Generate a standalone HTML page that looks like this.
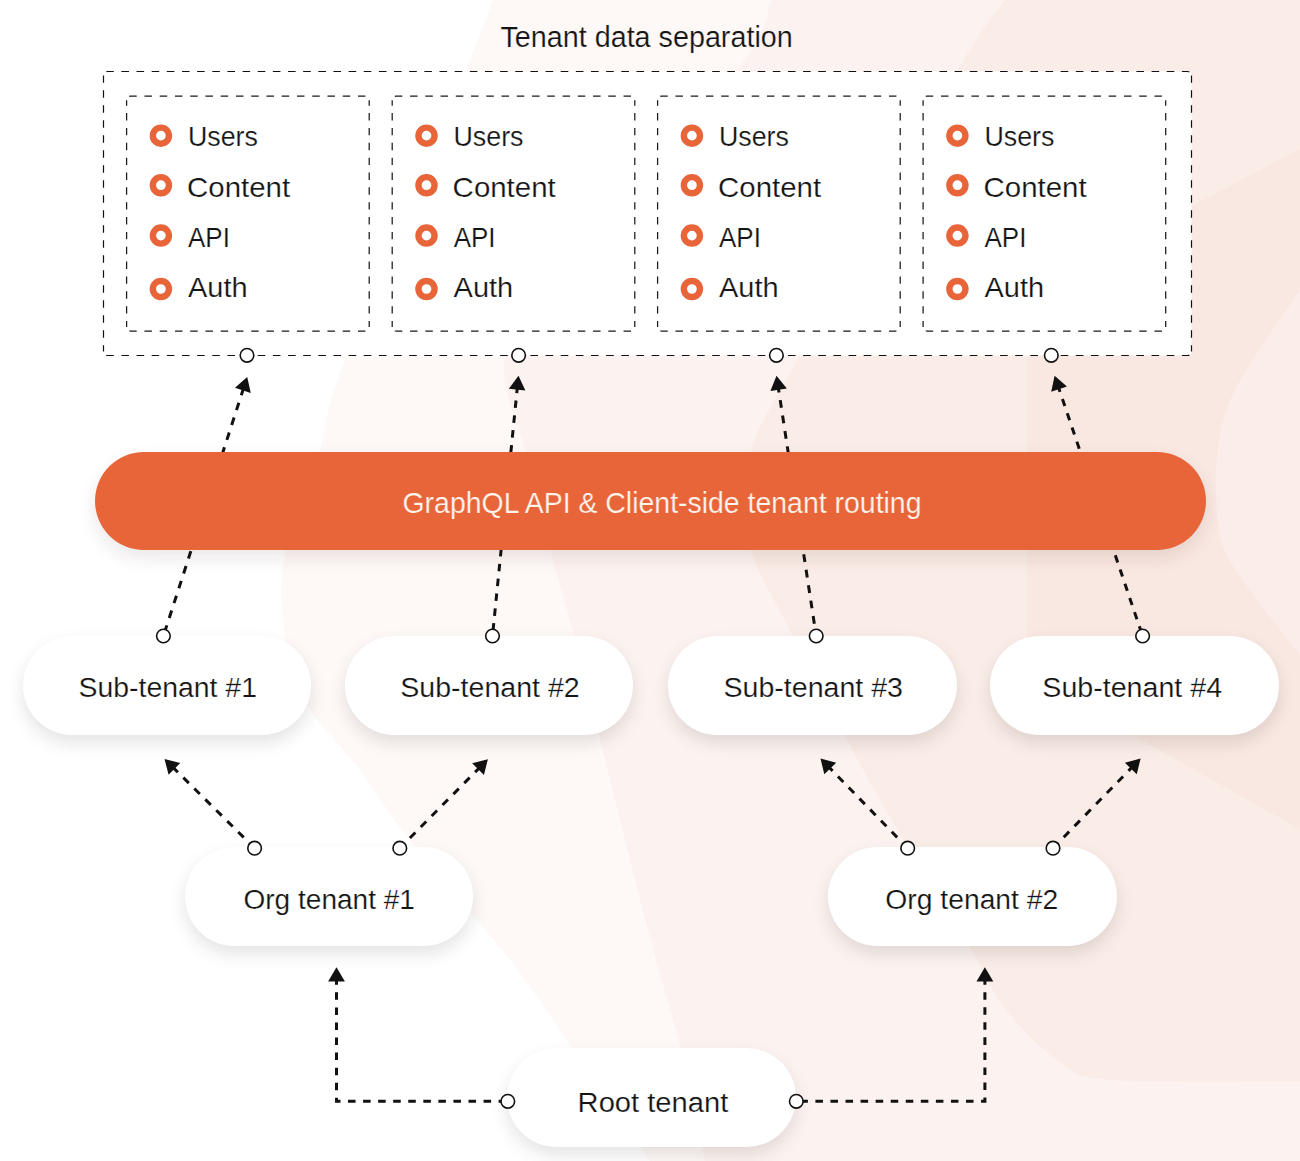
<!DOCTYPE html>
<html><head><meta charset="utf-8"><title>Tenant data separation</title>
<style>
html,body{margin:0;padding:0;background:#fff;}
body{width:1300px;height:1161px;overflow:hidden;}
body{position:relative;}
svg{display:block;font-family:"Liberation Sans",sans-serif;position:absolute;left:0;top:0;}
.pill{position:absolute;}
</style></head>
<body>
<svg width="1300" height="1161" viewBox="0 0 1300 1161">
<rect x="0" y="0" width="1300" height="1161" fill="#ffffff"/>
<path d="M493 0 C488.3 12.0 489.7 12.0 465 72 C440.3 132.0 369.2 297.0 345 360 C320.8 423.0 330.5 414.3 320 450 C309.5 485.7 285.3 534.0 282 574 C278.7 614.0 287.0 657.3 300 690 C313.0 722.7 341.7 745.0 360 770 C378.3 795.0 385.0 808.3 410 840 C435.0 871.7 483.3 925.8 510 960 C536.7 994.2 546.7 1011.5 570 1045 C593.3 1078.5 636.7 1141.7 650 1161 L1300 1161 L1300 0 Z" fill="#FEF8F6"/>
<path d="M772 0 C765.8 12.0 770.3 30.3 735 72 C699.7 113.7 598.3 202.5 560 250 C521.7 297.5 510.8 323.7 505 357 C499.2 390.3 517.3 417.5 525 450 C532.7 482.5 543.0 521.7 551 552 C559.0 582.3 564.2 598.2 573 632 C581.8 665.8 594.5 717.0 604 755 C613.5 793.0 621.3 825.8 630 860 C638.7 894.2 647.7 929.2 656 960 C664.3 990.8 671.8 1011.5 680 1045 C688.2 1078.5 700.8 1141.7 705 1161 L1300 1161 L1300 0 Z" fill="#FCF2EF"/>
<path d="M1005 0 C997.0 12.0 991.3 12.5 957 72 C922.7 131.5 833.3 293.7 799 357 C764.7 420.3 759.5 421.5 751 452 C742.5 482.5 741.3 510.0 748 540 C754.7 570.0 769.0 588.7 791 632 C813.0 675.3 850.8 748.7 880 800 C909.2 851.3 945.3 905.5 966 940 C986.7 974.5 988.7 986.8 1004 1007 C1019.3 1027.2 1040.2 1048.8 1058 1061 C1075.8 1073.2 1070.7 1076.5 1111 1080 C1151.3 1083.5 1268.5 1081.7 1300 1082 L1300 0 Z" fill="#FAECE7"/>
<path d="M1300 149 L1194 205 L1027 298 L1027 675 L1143 741 L1300 829 Z" fill="#F9E7E1"/>
<path d="M1300 290 C1289.2 306.7 1248.8 361.7 1235 390 C1221.2 418.3 1219.3 435.0 1217 460 C1214.7 485.0 1215.5 518.3 1221 540 C1226.5 561.7 1238.8 573.3 1250 590 C1261.2 606.7 1279.7 629.2 1288 640 C1296.3 650.8 1298.0 652.5 1300 655 Z" fill="#FBEEEA"/>
<rect x="103.5" y="71.5" width="1088.0" height="284.0" rx="4" fill="#ffffff"/>
<path d="M103.5 75.5 A4 4 0 0 1 107.5 71.5 H1187.5 A4 4 0 0 1 1191.5 75.5" fill="none" stroke="#111" stroke-width="1.2" stroke-dasharray="7.6 7.55" stroke-dashoffset="-4.83"/>
<path d="M103.5 351.5 A4 4 0 0 0 107.5 355.5 H1187.5 A4 4 0 0 0 1191.5 351.5" fill="none" stroke="#111" stroke-width="1.2" stroke-dasharray="7.6 7.55" stroke-dashoffset="-4.83"/>
<path d="M103.5 75.5 V351.5" fill="none" stroke="#111" stroke-width="1.2" stroke-dasharray="7.4 7.60" stroke-dashoffset="-14.80"/>
<path d="M1191.5 75.5 V351.5" fill="none" stroke="#111" stroke-width="1.2" stroke-dasharray="7.4 7.60" stroke-dashoffset="-14.80"/>
<text x="500.45" y="47.00" font-size="28.65" textLength="292.31" lengthAdjust="spacingAndGlyphs" fill="#141414" stroke="#FDF7F5" stroke-width="0.2" paint-order="fill stroke">Tenant data separation</text>
<rect x="126.6" y="96.2" width="242.6" height="234.8" rx="4" fill="#ffffff"/>
<path d="M126.6 100.2 A4 4 0 0 1 130.6 96.2 H365.2 A4 4 0 0 1 369.2 100.2" fill="none" stroke="#1a1a1a" stroke-width="1.25" stroke-dasharray="7.5 7.75" stroke-dashoffset="-4.73"/>
<path d="M126.6 327.0 A4 4 0 0 0 130.6 331.0 H365.2 A4 4 0 0 0 369.2 327.0" fill="none" stroke="#1a1a1a" stroke-width="1.25" stroke-dasharray="7.5 7.75" stroke-dashoffset="-4.73"/>
<path d="M126.6 100.2 V327.0" fill="none" stroke="#1a1a1a" stroke-width="1.25" stroke-dasharray="7.4 7.45" stroke-dashoffset="-12.90"/>
<path d="M369.2 100.2 V327.0" fill="none" stroke="#1a1a1a" stroke-width="1.25" stroke-dasharray="7.4 7.45" stroke-dashoffset="-12.90"/>
<circle cx="160.90" cy="135.65" r="8.05" fill="#ffffff" stroke="#E8653A" stroke-width="6.4"/>
<text x="187.92" y="146.00" font-size="28.36" textLength="69.98" lengthAdjust="spacingAndGlyphs" fill="#141414" stroke="#ffffff" stroke-width="0.2" paint-order="fill stroke">Users</text>
<circle cx="160.90" cy="185.20" r="8.05" fill="#ffffff" stroke="#E8653A" stroke-width="6.4"/>
<text x="187.03" y="196.80" font-size="28.36" textLength="103.09" lengthAdjust="spacingAndGlyphs" fill="#141414" stroke="#ffffff" stroke-width="0.2" paint-order="fill stroke">Content</text>
<circle cx="160.90" cy="235.60" r="8.05" fill="#ffffff" stroke="#E8653A" stroke-width="6.4"/>
<text x="188.04" y="247.00" font-size="28.36" textLength="41.85" lengthAdjust="spacingAndGlyphs" fill="#141414" stroke="#ffffff" stroke-width="0.2" paint-order="fill stroke">API</text>
<circle cx="160.90" cy="289.00" r="8.05" fill="#ffffff" stroke="#E8653A" stroke-width="6.4"/>
<text x="188.03" y="297.00" font-size="28.36" textLength="59.54" lengthAdjust="spacingAndGlyphs" fill="#141414" stroke="#ffffff" stroke-width="0.2" paint-order="fill stroke">Auth</text>
<rect x="392.2" y="96.2" width="242.59999999999997" height="234.8" rx="4" fill="#ffffff"/>
<path d="M392.2 100.2 A4 4 0 0 1 396.2 96.2 H630.8 A4 4 0 0 1 634.8 100.2" fill="none" stroke="#1a1a1a" stroke-width="1.25" stroke-dasharray="7.5 7.75" stroke-dashoffset="-4.73"/>
<path d="M392.2 327.0 A4 4 0 0 0 396.2 331.0 H630.8 A4 4 0 0 0 634.8 327.0" fill="none" stroke="#1a1a1a" stroke-width="1.25" stroke-dasharray="7.5 7.75" stroke-dashoffset="-4.73"/>
<path d="M392.2 100.2 V327.0" fill="none" stroke="#1a1a1a" stroke-width="1.25" stroke-dasharray="7.4 7.45" stroke-dashoffset="-12.90"/>
<path d="M634.8 100.2 V327.0" fill="none" stroke="#1a1a1a" stroke-width="1.25" stroke-dasharray="7.4 7.45" stroke-dashoffset="-12.90"/>
<circle cx="426.50" cy="135.65" r="8.05" fill="#ffffff" stroke="#E8653A" stroke-width="6.4"/>
<text x="453.52" y="146.00" font-size="28.36" textLength="69.98" lengthAdjust="spacingAndGlyphs" fill="#141414" stroke="#ffffff" stroke-width="0.2" paint-order="fill stroke">Users</text>
<circle cx="426.50" cy="185.20" r="8.05" fill="#ffffff" stroke="#E8653A" stroke-width="6.4"/>
<text x="452.63" y="196.80" font-size="28.36" textLength="103.09" lengthAdjust="spacingAndGlyphs" fill="#141414" stroke="#ffffff" stroke-width="0.2" paint-order="fill stroke">Content</text>
<circle cx="426.50" cy="235.60" r="8.05" fill="#ffffff" stroke="#E8653A" stroke-width="6.4"/>
<text x="453.64" y="247.00" font-size="28.36" textLength="41.85" lengthAdjust="spacingAndGlyphs" fill="#141414" stroke="#ffffff" stroke-width="0.2" paint-order="fill stroke">API</text>
<circle cx="426.50" cy="289.00" r="8.05" fill="#ffffff" stroke="#E8653A" stroke-width="6.4"/>
<text x="453.63" y="297.00" font-size="28.36" textLength="59.54" lengthAdjust="spacingAndGlyphs" fill="#141414" stroke="#ffffff" stroke-width="0.2" paint-order="fill stroke">Auth</text>
<rect x="657.6" y="96.2" width="242.60000000000002" height="234.8" rx="4" fill="#ffffff"/>
<path d="M657.6 100.2 A4 4 0 0 1 661.6 96.2 H896.2 A4 4 0 0 1 900.2 100.2" fill="none" stroke="#1a1a1a" stroke-width="1.25" stroke-dasharray="7.5 7.75" stroke-dashoffset="-4.73"/>
<path d="M657.6 327.0 A4 4 0 0 0 661.6 331.0 H896.2 A4 4 0 0 0 900.2 327.0" fill="none" stroke="#1a1a1a" stroke-width="1.25" stroke-dasharray="7.5 7.75" stroke-dashoffset="-4.73"/>
<path d="M657.6 100.2 V327.0" fill="none" stroke="#1a1a1a" stroke-width="1.25" stroke-dasharray="7.4 7.45" stroke-dashoffset="-12.90"/>
<path d="M900.2 100.2 V327.0" fill="none" stroke="#1a1a1a" stroke-width="1.25" stroke-dasharray="7.4 7.45" stroke-dashoffset="-12.90"/>
<circle cx="691.90" cy="135.65" r="8.05" fill="#ffffff" stroke="#E8653A" stroke-width="6.4"/>
<text x="718.92" y="146.00" font-size="28.36" textLength="69.98" lengthAdjust="spacingAndGlyphs" fill="#141414" stroke="#ffffff" stroke-width="0.2" paint-order="fill stroke">Users</text>
<circle cx="691.90" cy="185.20" r="8.05" fill="#ffffff" stroke="#E8653A" stroke-width="6.4"/>
<text x="718.03" y="196.80" font-size="28.36" textLength="103.09" lengthAdjust="spacingAndGlyphs" fill="#141414" stroke="#ffffff" stroke-width="0.2" paint-order="fill stroke">Content</text>
<circle cx="691.90" cy="235.60" r="8.05" fill="#ffffff" stroke="#E8653A" stroke-width="6.4"/>
<text x="719.04" y="247.00" font-size="28.36" textLength="41.85" lengthAdjust="spacingAndGlyphs" fill="#141414" stroke="#ffffff" stroke-width="0.2" paint-order="fill stroke">API</text>
<circle cx="691.90" cy="289.00" r="8.05" fill="#ffffff" stroke="#E8653A" stroke-width="6.4"/>
<text x="719.03" y="297.00" font-size="28.36" textLength="59.54" lengthAdjust="spacingAndGlyphs" fill="#141414" stroke="#ffffff" stroke-width="0.2" paint-order="fill stroke">Auth</text>
<rect x="923.1" y="96.2" width="242.60000000000002" height="234.8" rx="4" fill="#ffffff"/>
<path d="M923.1 100.2 A4 4 0 0 1 927.1 96.2 H1161.7 A4 4 0 0 1 1165.7 100.2" fill="none" stroke="#1a1a1a" stroke-width="1.25" stroke-dasharray="7.5 7.75" stroke-dashoffset="-4.73"/>
<path d="M923.1 327.0 A4 4 0 0 0 927.1 331.0 H1161.7 A4 4 0 0 0 1165.7 327.0" fill="none" stroke="#1a1a1a" stroke-width="1.25" stroke-dasharray="7.5 7.75" stroke-dashoffset="-4.73"/>
<path d="M923.1 100.2 V327.0" fill="none" stroke="#1a1a1a" stroke-width="1.25" stroke-dasharray="7.4 7.45" stroke-dashoffset="-12.90"/>
<path d="M1165.7 100.2 V327.0" fill="none" stroke="#1a1a1a" stroke-width="1.25" stroke-dasharray="7.4 7.45" stroke-dashoffset="-12.90"/>
<circle cx="957.40" cy="135.65" r="8.05" fill="#ffffff" stroke="#E8653A" stroke-width="6.4"/>
<text x="984.42" y="146.00" font-size="28.36" textLength="69.98" lengthAdjust="spacingAndGlyphs" fill="#141414" stroke="#ffffff" stroke-width="0.2" paint-order="fill stroke">Users</text>
<circle cx="957.40" cy="185.20" r="8.05" fill="#ffffff" stroke="#E8653A" stroke-width="6.4"/>
<text x="983.53" y="196.80" font-size="28.36" textLength="103.09" lengthAdjust="spacingAndGlyphs" fill="#141414" stroke="#ffffff" stroke-width="0.2" paint-order="fill stroke">Content</text>
<circle cx="957.40" cy="235.60" r="8.05" fill="#ffffff" stroke="#E8653A" stroke-width="6.4"/>
<text x="984.54" y="247.00" font-size="28.36" textLength="41.85" lengthAdjust="spacingAndGlyphs" fill="#141414" stroke="#ffffff" stroke-width="0.2" paint-order="fill stroke">API</text>
<circle cx="957.40" cy="289.00" r="8.05" fill="#ffffff" stroke="#E8653A" stroke-width="6.4"/>
<text x="984.53" y="297.00" font-size="28.36" textLength="59.54" lengthAdjust="spacingAndGlyphs" fill="#141414" stroke="#ffffff" stroke-width="0.2" paint-order="fill stroke">Auth</text>
<path d="M163.40 636.00 L243.20 389.37" fill="none" stroke="#111" stroke-width="3" stroke-dasharray="7.80 7.80" stroke-dashoffset="-3.37"/>
<path d="M492.50 636.00 L517.21 388.64" fill="none" stroke="#111" stroke-width="3" stroke-dasharray="7.46 7.46" stroke-dashoffset="-5.40"/>
<path d="M816.20 636.00 L778.46 388.65" fill="none" stroke="#111" stroke-width="3" stroke-dasharray="7.80 7.80" stroke-dashoffset="3.20"/>
<path d="M1142.60 636.00 L1058.76 388.11" fill="none" stroke="#111" stroke-width="3" stroke-dasharray="7.50 7.50" stroke-dashoffset="-2.70"/>
<path d="M254.60 848.20 L173.74 768.15" fill="none" stroke="#111" stroke-width="3" stroke-dasharray="7.72 7.72" stroke-dashoffset="0.10"/>
<path d="M399.80 848.20 L478.75 768.44" fill="none" stroke="#111" stroke-width="3" stroke-dasharray="7.72 7.72" stroke-dashoffset="1.05"/>
<path d="M907.70 848.20 L829.56 767.82" fill="none" stroke="#111" stroke-width="3" stroke-dasharray="7.72 7.72" stroke-dashoffset="0.30"/>
<path d="M1053.00 848.20 L1131.52 767.80" fill="none" stroke="#111" stroke-width="3" stroke-dasharray="7.72 7.72" stroke-dashoffset="0.05"/>
<path d="M507.8 1101.3 H336.5 V981" fill="none" stroke="#111" stroke-width="3" stroke-dasharray="7.53 7.53" stroke-dashoffset="-1.65"/>
<path d="M796.3 1101.3 H984.9 V981" fill="none" stroke="#111" stroke-width="3" stroke-dasharray="7.53 7.53" stroke-dashoffset="-4.05"/>
</svg>
<div class="pill" style="left:94.8px;top:452px;width:1111.7px;height:98.2px;border-radius:49.1px;background:#E8653A;box-shadow:0 8px 18px rgba(60,30,20,0.10)"></div>
<div class="pill" style="left:22.8px;top:636.0px;width:288.0px;height:99px;border-radius:49.5px;background:#fff;box-shadow:0 8px 18px rgba(0,0,0,0.11)"></div>
<div class="pill" style="left:345.2px;top:636.0px;width:287.7px;height:99px;border-radius:49.5px;background:#fff;box-shadow:0 8px 18px rgba(0,0,0,0.11)"></div>
<div class="pill" style="left:668.2px;top:636.0px;width:288.9px;height:99px;border-radius:49.5px;background:#fff;box-shadow:0 8px 18px rgba(0,0,0,0.11)"></div>
<div class="pill" style="left:990.3px;top:636.0px;width:288.7px;height:99px;border-radius:49.5px;background:#fff;box-shadow:0 8px 18px rgba(0,0,0,0.11)"></div>
<div class="pill" style="left:184.7px;top:846.6px;width:287.9px;height:99px;border-radius:49.5px;background:#fff;box-shadow:0 8px 18px rgba(0,0,0,0.11)"></div>
<div class="pill" style="left:828.3px;top:846.6px;width:288.4px;height:99px;border-radius:49.5px;background:#fff;box-shadow:0 8px 18px rgba(0,0,0,0.11)"></div>
<div class="pill" style="left:507.3px;top:1048.3px;width:288.5px;height:99px;border-radius:49.5px;background:#fff;box-shadow:0 8px 18px rgba(0,0,0,0.11)"></div>
<svg class="top" width="1300" height="1161" viewBox="0 0 1300 1161">
<text x="402.48" y="513.00" font-size="29.53" textLength="519.05" lengthAdjust="spacingAndGlyphs" fill="#FFF3EA" stroke="#E8653A" stroke-width="0.2" paint-order="fill stroke">GraphQL API &amp; Client-side tenant routing</text>
<text x="78.62" y="696.60" font-size="28.22" textLength="178.34" lengthAdjust="spacingAndGlyphs" fill="#141414" stroke="#ffffff" stroke-width="0.2" paint-order="fill stroke">Sub-tenant #1</text>
<text x="400.31" y="696.60" font-size="28.22" textLength="179.43" lengthAdjust="spacingAndGlyphs" fill="#141414" stroke="#ffffff" stroke-width="0.2" paint-order="fill stroke">Sub-tenant #2</text>
<text x="723.51" y="696.60" font-size="28.22" textLength="179.51" lengthAdjust="spacingAndGlyphs" fill="#141414" stroke="#ffffff" stroke-width="0.2" paint-order="fill stroke">Sub-tenant #3</text>
<text x="1042.31" y="696.60" font-size="28.22" textLength="179.79" lengthAdjust="spacingAndGlyphs" fill="#141414" stroke="#ffffff" stroke-width="0.2" paint-order="fill stroke">Sub-tenant #4</text>
<text x="243.47" y="909.00" font-size="28.22" textLength="171.48" lengthAdjust="spacingAndGlyphs" fill="#141414" stroke="#ffffff" stroke-width="0.2" paint-order="fill stroke">Org tenant #1</text>
<text x="885.36" y="909.00" font-size="28.22" textLength="172.87" lengthAdjust="spacingAndGlyphs" fill="#141414" stroke="#ffffff" stroke-width="0.2" paint-order="fill stroke">Org tenant #2</text>
<text x="577.60" y="1111.70" font-size="28.22" textLength="150.64" lengthAdjust="spacingAndGlyphs" fill="#141414" stroke="#ffffff" stroke-width="0.2" paint-order="fill stroke">Root tenant</text>
<path d="M247.20 377.00 L250.79 392.88 L234.99 387.77 Z" fill="#111"/>
<path d="M518.50 375.70 L525.37 390.46 L508.85 388.81 Z" fill="#111"/>
<path d="M776.50 375.80 L786.82 388.39 L770.41 390.89 Z" fill="#111"/>
<path d="M1054.60 375.80 L1066.95 386.40 L1051.22 391.72 Z" fill="#111"/>
<path d="M164.50 759.00 L180.29 762.95 L168.61 774.75 Z" fill="#111"/>
<path d="M487.90 759.20 L483.95 774.99 L472.15 763.31 Z" fill="#111"/>
<path d="M820.50 758.50 L836.21 762.75 L824.31 774.32 Z" fill="#111"/>
<path d="M1140.60 758.50 L1136.76 774.32 L1124.88 762.72 Z" fill="#111"/>
<path d="M336.5 967.2 L344.9 981.5 L328.1 981.5 Z" fill="#111"/>
<path d="M984.9 967.2 L993.3 981.5 L976.5 981.5 Z" fill="#111"/>
<circle cx="247.0" cy="355.3" r="6.8" fill="#ffffff" stroke="#111" stroke-width="1.6"/>
<circle cx="518.6" cy="355.3" r="6.8" fill="#ffffff" stroke="#111" stroke-width="1.6"/>
<circle cx="776.4" cy="355.3" r="6.8" fill="#ffffff" stroke="#111" stroke-width="1.6"/>
<circle cx="1051.3" cy="355.3" r="6.8" fill="#ffffff" stroke="#111" stroke-width="1.6"/>
<circle cx="163.4" cy="636.0" r="6.8" fill="#ffffff" stroke="#111" stroke-width="1.6"/>
<circle cx="492.5" cy="636.0" r="6.8" fill="#ffffff" stroke="#111" stroke-width="1.6"/>
<circle cx="816.2" cy="636.0" r="6.8" fill="#ffffff" stroke="#111" stroke-width="1.6"/>
<circle cx="1142.6" cy="636.0" r="6.8" fill="#ffffff" stroke="#111" stroke-width="1.6"/>
<circle cx="254.6" cy="848.2" r="6.8" fill="#ffffff" stroke="#111" stroke-width="1.6"/>
<circle cx="399.8" cy="848.2" r="6.8" fill="#ffffff" stroke="#111" stroke-width="1.6"/>
<circle cx="907.7" cy="848.2" r="6.8" fill="#ffffff" stroke="#111" stroke-width="1.6"/>
<circle cx="1053.0" cy="848.2" r="6.8" fill="#ffffff" stroke="#111" stroke-width="1.6"/>
<circle cx="507.8" cy="1101.3" r="6.8" fill="#ffffff" stroke="#111" stroke-width="1.6"/>
<circle cx="796.3" cy="1101.3" r="6.8" fill="#ffffff" stroke="#111" stroke-width="1.6"/>
</svg>
</body></html>
